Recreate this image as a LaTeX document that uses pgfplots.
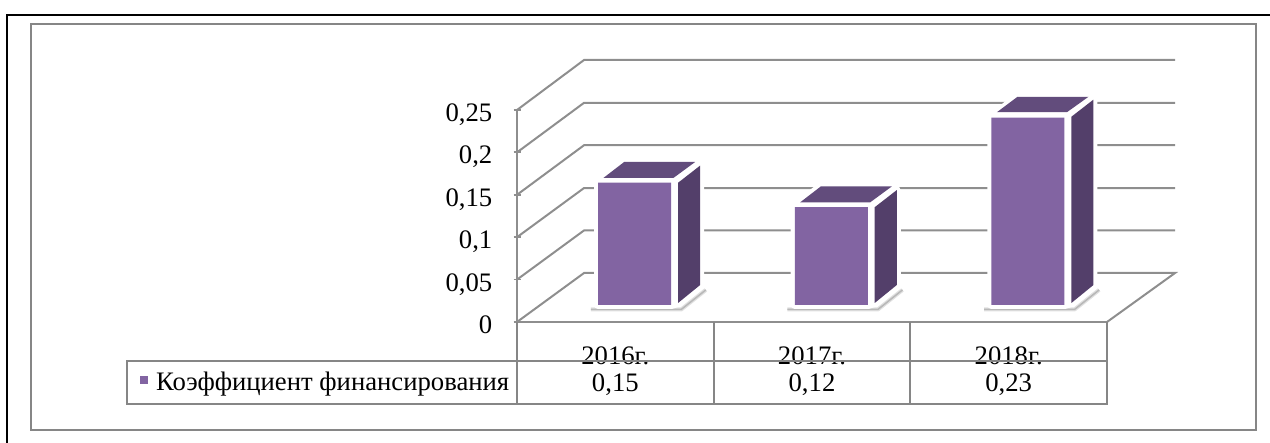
\documentclass[border=0pt]{standalone}
\usepackage{fontspec}
\setmainfont{Liberation Serif}
\usepackage{pgfplots}
\pgfplotsset{compat=1.18}
\definecolor{framegray}{HTML}{868686}
\definecolor{gridgray}{HTML}{8E8E8E}
\definecolor{barfront}{HTML}{8264A2}
\definecolor{barside}{HTML}{533F6A}
\definecolor{bartop}{HTML}{624C7C}

% one picture point = one pixel of the reference
\pgfplotstableread{
x v
0 0.15
1 0.12
2 0.23
}\coefdata

\newcommand{\bigfont}{\fontsize{26.7}{31}\selectfont}

\begin{document}
\begin{tikzpicture}
\useasboundingbox (0,0) rectangle (1270pt,443pt);

% outer frames
\draw[black,line width=2pt] (7pt,0pt) -- (7pt,428pt) -- (1270pt,428pt);
\draw[framegray,line width=2.4pt] (31pt,13pt) rectangle (1256pt,419pt);

% value axis with the walls and gridlines
\begin{axis}[
    at={(517pt,121pt)}, anchor=south west,
    scale only axis, width=590pt, height=212pt,
    xmin=-0.5, xmax=2.5, ymin=0, ymax=0.25,
    clip=false,
    axis y line=left, axis x line=bottom,
    axis line style={-,draw=gridgray,line width=2pt},
    xtick={0,1,2}, xticklabels={2016г.,2017г.,2018г.},
    ytick={0,0.05,0.1,0.15,0.2,0.25},
    yticklabels={0,{0,05},{0,1},{0,15},{0,2},{0,25}},
    tick style={draw=gridgray,line width=1.8pt},
    major tick length=7pt,
    xtick style={draw=none},
    xticklabel style={font=\bigfont,anchor=base,yshift=-39pt},
    yticklabel style={font=\bigfont,anchor=base east,inner sep=0pt,xshift=-21pt,yshift=-11.5pt},
]
\addplot[gridgray,line width=2pt] coordinates {(-0.5,0) (-0.159,0.0578) (2.846,0.0578) (2.5,0)};
\addplot[gridgray,line width=2pt] coordinates {(-0.5,0.05) (-0.159,0.108) (2.846,0.108)};
\addplot[gridgray,line width=2pt] coordinates {(-0.5,0.1) (-0.159,0.158) (2.846,0.158)};
\addplot[gridgray,line width=2pt] coordinates {(-0.5,0.15) (-0.159,0.2085) (2.846,0.2085)};
\addplot[gridgray,line width=2pt] coordinates {(-0.5,0.2) (-0.159,0.2585) (2.846,0.2585)};
\addplot[gridgray,line width=2pt] coordinates {(-0.5,0.25) (-0.159,0.309) (2.846,0.309)};
\end{axis}

% bars stand on the floor, further back than the front edge
\begin{axis}[
    at={(517pt,138pt)}, anchor=south west,
    scale only axis, width=590pt, height=203.75pt,
    xmin=-0.5, xmax=2.5, ymin=0, ymax=0.25,
    clip=false, hide axis,
]
% soft shadows on the floor
\addplot[black!12,line width=4pt,line join=round] coordinates {(-0.125,-0.0055) (0.335,-0.0055) (0.46,0.0185)};
\addplot[black!12,line width=4pt,line join=round] coordinates {(0.875,-0.0055) (1.335,-0.0055) (1.46,0.0185)};
\addplot[black!12,line width=4pt,line join=round] coordinates {(1.875,-0.0055) (2.335,-0.0055) (2.46,0.0185)};
\addplot[black!28,line width=1.5pt,line join=round] coordinates {(-0.125,-0.0055) (0.335,-0.0055) (0.46,0.0185)};
\addplot[black!28,line width=1.5pt,line join=round] coordinates {(0.875,-0.0055) (1.335,-0.0055) (1.46,0.0185)};
\addplot[black!28,line width=1.5pt,line join=round] coordinates {(1.875,-0.0055) (2.335,-0.0055) (2.46,0.0185)};
% white halo round each bar
\addplot[fill=white,draw=white,line width=8pt,line join=round] coordinates {(-0.088,0) (-0.088,0.15) (0.045,0.1755) (0.406,0.1755) (0.431,0.171) (0.431,0.0245) (0.319,0.0025) (0.284,0)} -- cycle;
\addplot[fill=white,draw=white,line width=8pt,line join=round] coordinates {(0.912,0) (0.912,0.12) (1.045,0.1455) (1.406,0.1455) (1.431,0.141) (1.431,0.0245) (1.319,0.0025) (1.284,0)} -- cycle;
\addplot[fill=white,draw=white,line width=8pt,line join=round] coordinates {(1.912,0) (1.912,0.23) (2.045,0.2555) (2.406,0.2555) (2.431,0.252) (2.431,0.0245) (2.319,0.0025) (2.284,0)} -- cycle;
% side faces
\addplot[fill=barside,draw=none] coordinates {(0.319,0.150) (0.431,0.171) (0.431,0.0245) (0.319,0.0025)} -- cycle;
\addplot[fill=barside,draw=none] coordinates {(1.319,0.120) (1.431,0.141) (1.431,0.0245) (1.319,0.0025)} -- cycle;
\addplot[fill=barside,draw=none] coordinates {(2.319,0.231) (2.431,0.252) (2.431,0.0245) (2.319,0.0025)} -- cycle;
% top faces
\addplot[fill=bartop,draw=none] coordinates {(-0.06,0.156) (0.296,0.156) (0.406,0.1755) (0.045,0.1755)} -- cycle;
\addplot[fill=bartop,draw=none] coordinates {(0.94,0.126) (1.296,0.126) (1.406,0.1455) (1.045,0.1455)} -- cycle;
\addplot[fill=bartop,draw=none] coordinates {(1.94,0.2365) (2.296,0.2365) (2.406,0.2555) (2.045,0.2555)} -- cycle;
% front faces
\addplot[ybar,bar width=73pt,bar shift=19.25pt,fill=barfront,draw=none] table[x=x,y=v] {\coefdata};
% data table values and legend key
\node[font=\bigfont,anchor=base] at (axis cs:0,-0.106) {0,15};
\node[font=\bigfont,anchor=base] at (axis cs:1,-0.106) {0,12};
\node[font=\bigfont,anchor=base] at (axis cs:2,-0.106) {0,23};
\end{axis}

% data table rules
\begin{scope}[framegray,line width=2pt]
\draw (127pt,39pt) rectangle (1107pt,82pt);
\draw (517pt,39pt) -- (517pt,121pt);
\draw (714pt,39pt) -- (714pt,121pt);
\draw (910pt,39pt) -- (910pt,121pt);
\draw (1107pt,39pt) -- (1107pt,121pt);
\end{scope}
\fill[barfront] (140pt,59pt) rectangle (148pt,67pt);
\node[font=\bigfont,anchor=base west,inner sep=0pt] at (156pt,52pt) {Коэффициент финансирования};
\end{tikzpicture}
\end{document}
